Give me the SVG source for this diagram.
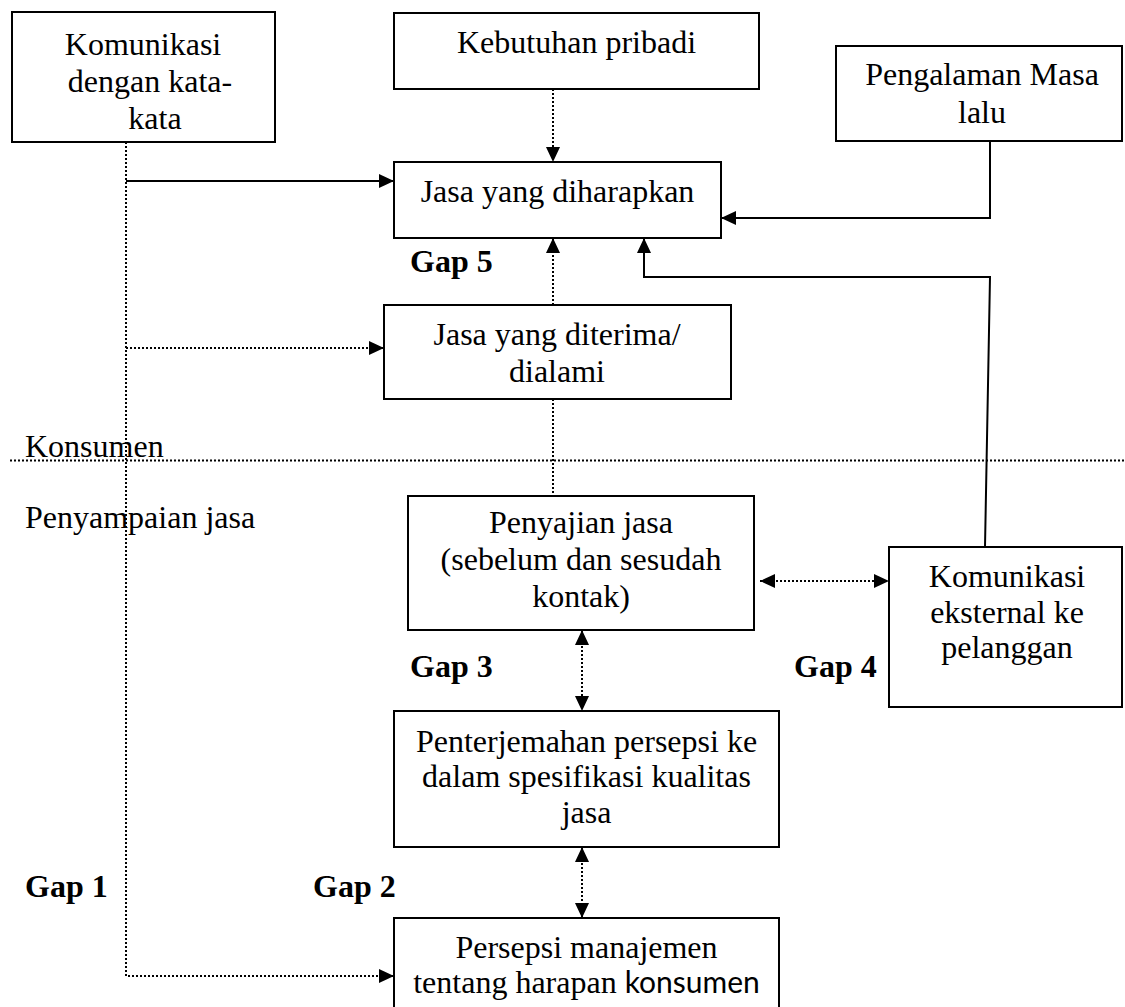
<svg xmlns="http://www.w3.org/2000/svg" width="1125" height="1007" viewBox="0 0 1125 1007">
<style>
.box{fill:#fff;stroke:#000;stroke-width:2}
.t{font-family:"Liberation Serif","Times New Roman",serif;font-size:32px;fill:#000}
.c{text-anchor:middle}
.b{font-weight:bold}
.solid{fill:none;stroke:#000;stroke-width:2}
.dot{fill:none;stroke:#000;stroke-width:2;stroke-dasharray:2 2}
</style>
<defs>
<marker id="ah" markerUnits="userSpaceOnUse" markerWidth="15" markerHeight="14" refX="15" refY="7" orient="auto-start-reverse">
<path d="M0,0 L15,7 L0,14 z" fill="#000"/>
</marker>
</defs>
<rect width="1125" height="1007" fill="#fff"/>
<g id="connectors">
<line class="dot" x1="10" y1="460.5" x2="1125" y2="460.5"/>
<polyline class="dot" points="126,142 126,976 394,976" marker-end="url(#ah)"/>
<line class="solid" x1="126" y1="181" x2="394" y2="181" marker-end="url(#ah)"/>
<line class="dot" x1="126" y1="348" x2="384" y2="348" marker-end="url(#ah)"/>
<line class="dot" x1="553" y1="89" x2="553" y2="162" marker-end="url(#ah)"/>
<polyline class="solid" points="990,141 990,218 721,218" marker-end="url(#ah)"/>
<line class="dot" x1="553" y1="305" x2="553" y2="238" marker-end="url(#ah)"/>
<line class="dot" x1="553" y1="399" x2="553" y2="496"/>
<polyline class="solid" points="985,547 990,277 644,277 644,238" marker-end="url(#ah)"/>
<line class="dot" x1="760" y1="581" x2="889" y2="581" marker-start="url(#ah)" marker-end="url(#ah)"/>
<line class="dot" x1="582" y1="630" x2="582" y2="711" marker-start="url(#ah)" marker-end="url(#ah)"/>
<line class="dot" x1="582" y1="847" x2="582" y2="918" marker-start="url(#ah)" marker-end="url(#ah)"/>
</g>
<g id="n-komunikasi">
<rect class="box" x="12" y="12" width="263" height="130"/>
<text class="t c" x="143" y="55">Komunikasi</text>
<text class="t c" x="150" y="92">dengan kata-</text>
<text class="t c" x="155" y="129">kata</text>
</g>
<g id="n-kebutuhan">
<rect class="box" x="394" y="13" width="365" height="76"/>
<text class="t c" x="576.5" y="53">Kebutuhan pribadi</text>
</g>
<g id="n-harapan">
<rect class="box" x="394" y="162" width="327" height="76"/>
<text class="t c" x="557.5" y="202">Jasa yang diharapkan</text>
</g>
<g id="n-pengalaman">
<rect class="box" x="836" y="46" width="286" height="95"/>
<text class="t c" x="982" y="85">Pengalaman Masa</text>
<text class="t c" x="982" y="123">lalu</text>
</g>
<g id="n-diterima">
<rect class="box" x="384" y="305" width="347" height="94"/>
<text class="t c" x="557" y="345">Jasa yang diterima/</text>
<text class="t c" x="557" y="382">dialami</text>
</g>
<g id="n-penyajian">
<rect class="box" x="408" y="496" width="346" height="134"/>
<text class="t c" x="581" y="533">Penyajian jasa</text>
<text class="t c" x="581" y="570">(sebelum dan sesudah</text>
<text class="t c" x="581" y="607">kontak)</text>
</g>
<g id="n-eksternal">
<rect class="box" x="889" y="547" width="233" height="160"/>
<text class="t c" x="1007" y="587">Komunikasi</text>
<text class="t c" x="1007" y="623">eksternal ke</text>
<text class="t c" x="1007" y="658">pelanggan</text>
</g>
<g id="n-penterjemahan">
<rect class="box" x="394" y="711" width="385" height="136"/>
<text class="t c" x="586.5" y="752">Penterjemahan persepsi ke</text>
<text class="t c" x="586.5" y="787">dalam spesifikasi kualitas</text>
<text class="t c" x="586.5" y="823">jasa</text>
</g>
<g id="n-persepsi">
<rect class="box" x="394" y="918" width="385" height="100"/>
<text class="t c" x="586.5" y="958">Persepsi manajemen</text>
<text class="t c" x="586.5" y="993">tentang harapan <tspan font-family="Lato, 'Open Sans', sans-serif" font-size="30">konsumen</tspan></text>
</g>
<g id="labels">
<text class="t" x="25" y="457">Konsumen</text>
<text class="t" x="25" y="528">Penyampaian jasa</text>
<text class="t b" x="410" y="272">Gap 5</text>
<text class="t b" x="410" y="677">Gap 3</text>
<text class="t b" x="794" y="677">Gap 4</text>
<text class="t b" x="25" y="897">Gap 1</text>
<text class="t b" x="313" y="897">Gap 2</text>
</g>
</svg>
